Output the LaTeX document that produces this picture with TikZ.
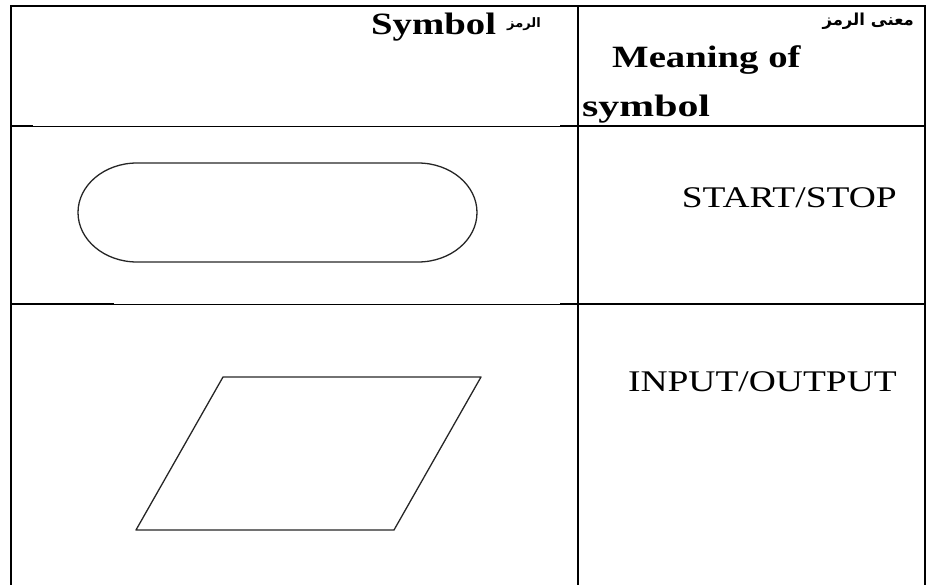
\documentclass[tikz,border=0pt]{standalone}
\usepackage{fontspec}
\setmainfont{Liberation Serif}[FakeStretch=1.25]
\newfontfamily\arabicfont[Script=Arabic]{DejaVu Sans}
\TeXXeTstate=1

\begin{document}
\begin{tikzpicture}[x=1pt, y=-1pt,
    rulebold/.style={line width=2pt},
    rulethin/.style={line width=0.8pt},
    symline/.style={line width=1.3pt, black!85, line join=round},
    headtxt/.style={inner sep=0pt, font=\fontsize{31}{36}\selectfont\bfseries},
    artxt/.style={inner sep=0pt, font=\fontsize{15}{17}\selectfont\arabicfont\bfseries},
    celltxt/.style={inner sep=0pt, font=\fontsize{30}{36}\selectfont}]

    \useasboundingbox (0,0) rectangle (930,585);

    % Outer frame and middle column
    \draw[rulebold] (11,585) -- (11,6) -- (925,6) -- (925,585);
    \draw[rulebold] (578,6) -- (578,585);

    % Row separators, thick at the ends and thin in between
    \draw[rulebold] (11,126) -- (33,126);
    \draw[rulethin] (33,126) -- (560,126);
    \draw[rulebold] (560,126) -- (925,126);
    \draw[rulebold] (11,304) -- (114,304);
    \draw[rulethin] (114,304) -- (560,304);
    \draw[rulebold] (560,304) -- (925,304);

    % Header
    \node[headtxt, anchor=base west] (symhead) at (371,35) {Symbol};
    \node[artxt, anchor=east, font=\fontsize{13}{15}\selectfont\arabicfont\bfseries] (symhead-ar) at (541,24) {\beginR الرمز\endR};
    \node[artxt, anchor=east, font=\fontsize{16.5}{18}\selectfont\arabicfont\bfseries] (meanhead-ar) at (914,21) {\beginR معنى الرمز\endR};
    \node[headtxt, anchor=base west] (meanhead) at (612,68) {Meaning of};
    \node[headtxt, anchor=base west, font=\fontsize{31}{36}\selectfont\bfseries\addfontfeature{FakeStretch=1.35}] (meanhead2) at (582,117) {symbol};

    % Start/stop terminal
    \draw[symline] (137,163) -- (418,163)
        arc[start angle=-90, end angle=90, x radius=59, y radius=49.5]
        -- (137,262)
        arc[start angle=90, end angle=270, x radius=59, y radius=49.5]
        -- cycle;
    \node[celltxt, anchor=base east] (startstop) at (897,208) {START/STOP};

    % Input/output parallelogram
    \draw[symline] (223,377) -- (481,377) -- (394,530) -- (136,530) -- cycle;
    \node[celltxt, anchor=base east] (inout) at (897,392) {INPUT/OUTPUT};

\end{tikzpicture}
\end{document}
